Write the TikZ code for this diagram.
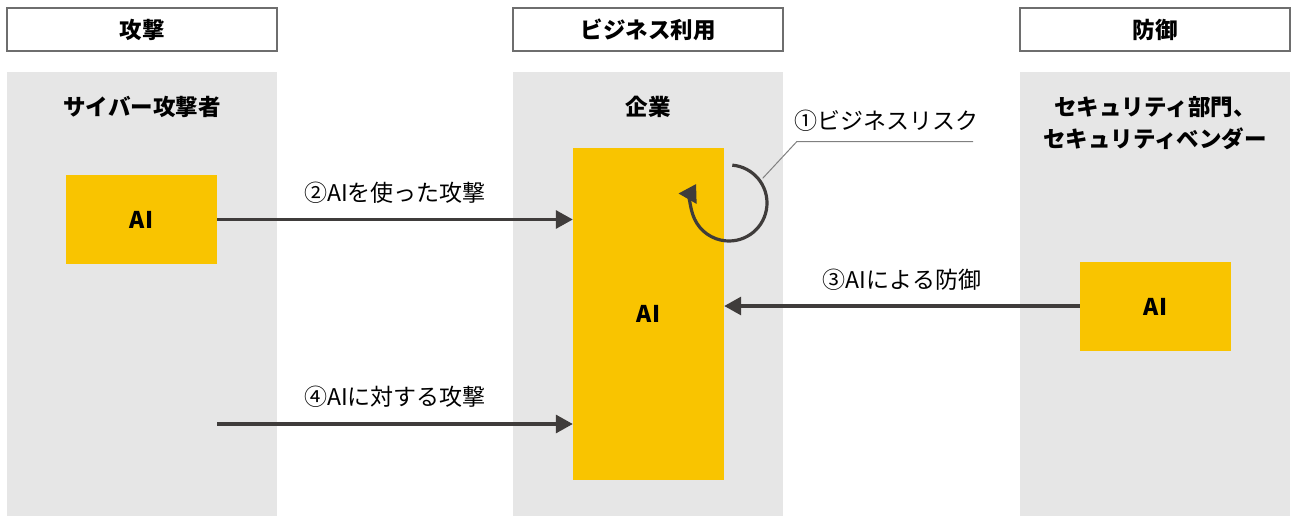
\documentclass[tikz,border=0pt]{standalone}
\usepackage{fontspec}
\setmainfont{Noto Sans CJK JP}
\usetikzlibrary{arrows.meta,calc}
\definecolor{colgray}{HTML}{E6E6E6}
\definecolor{aiyellow}{HTML}{F9C400}
\definecolor{arrowdark}{HTML}{3F3C3B}
\definecolor{hdrborder}{HTML}{6E6E6E}
\tikzset{
  hdrbox/.style={draw=hdrborder, line width=1.3pt, fill=white, minimum width=270pt, minimum height=43pt, inner sep=0pt, font=\fontsize{22.5}{26}\selectfont\bfseries},
  colbg/.style={fill=colgray, draw=none},
  coltitle/.style={font=\fontsize{22.5}{32}\selectfont\bfseries, align=center, inner sep=0pt},
  aibox/.style={fill=aiyellow, draw=none, inner sep=0pt, font=\fontsize{23}{26}\selectfont\bfseries},
  flow/.style={draw=arrowdark, line width=3.2pt, -{Triangle[length=17pt,width=18pt]}},
  lbl/.style={font=\fontsize{23}{26}\selectfont, inner sep=0pt},
  leader/.style={draw=gray, line width=1pt}
}
\begin{document}
\begin{tikzpicture}[x=1pt,y=-1pt]
\useasboundingbox (0,0) rectangle (1292,516);
% column backgrounds
\fill[colbg] (7,72) rectangle (277,516);
\fill[colbg] (513,72) rectangle (783,516);
\fill[colbg] (1020,72) rectangle (1290,516);
% headers
\node[hdrbox] (h1) at (142,29.5) {攻撃};
\node[hdrbox] (h2) at (648,29.5) {ビジネス利用};
\node[hdrbox] (h3) at (1155,29.5) {防御};
% column titles
\node[coltitle] (t1) at (142,107) {サイバー攻撃者};
\node[coltitle] (t2) at (648,107) {企業};
\node[coltitle] (t3) at (1155,123) {セキュリティ部門、\\セキュリティベンダー};
% AI boxes
\node[aibox, minimum width=151pt, minimum height=89pt] (ai1) at (141.5,219.5) {AI};
\node[aibox, minimum width=151pt, minimum height=332pt] (ai2) at (648.5,314) {AI};
\node[aibox, minimum width=151pt, minimum height=89pt] (ai3) at (1155.5,306.5) {AI};
% arrows
\draw[flow] (ai1.east) -- (ai1.east -| ai2.west);
\node[lbl] (l2) at (395,193) {②AIを使った攻撃};
\coordinate (s4) at (217,424);
\draw[flow] (s4) -- (s4 -| ai2.west);
\node[lbl] (l4) at (395,397) {④AIに対する攻撃};
\coordinate (y3) at (0,306);
\draw[flow] (ai3.west |- y3) -- (ai2.east |- y3);
\node[lbl] (l3) at (902,280) {③AIによる防御};
% circular arrow (y axis flipped: angles negated)
\coordinate (cc) at (729,203);
\draw[draw=arrowdark, line width=3.2pt, -{Triangle[length=17pt,width=20pt]}]
  ($(cc)+(-85:38)$) arc[start angle=-85, end angle=210, radius=38];
% leader and label
\coordinate (lp1) at (762.7,178.3);
\coordinate (lp2) at (796.7,141.7);
\coordinate (lp3) at (973,141.7);
\draw[leader] (lp1) -- (lp2) -- (lp3);
\node[lbl] (l1) at (886,121) {①ビジネスリスク};
\end{tikzpicture}
\end{document}
